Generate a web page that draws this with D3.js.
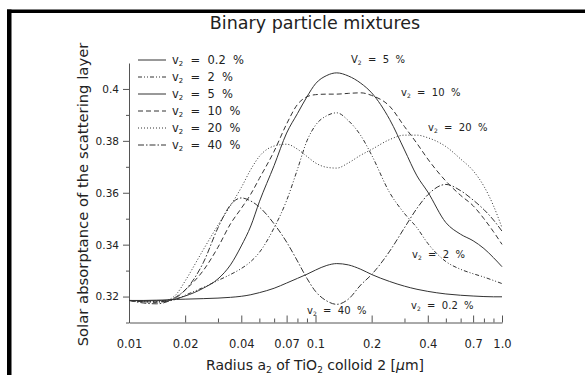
<!DOCTYPE html>
<html>
<head>
    <script src="https://d3js.org/d3.v7.min.js"></script>
    <style>
        body { margin: 0; background: #fff; }
        text { font-family: "DejaVu Sans", sans-serif; fill: #222; }
    </style>
</head>
<body>
    <div id="chart"></div>
    <script>
        // radius grid (um) and absorptance per volume fraction
        const radius = [0.01, 0.012, 0.014, 0.016, 0.018, 0.02, 0.025, 0.03, 0.035, 0.04, 0.045, 0.05,
            0.06, 0.07, 0.08, 0.09, 0.1, 0.115, 0.13, 0.15, 0.175, 0.2, 0.25, 0.3, 0.35, 0.4, 0.5,
            0.6, 0.7, 0.8, 0.9, 1.0];
        const v02 = [.3185, .3185, .3186, .3187, .3189, .3190, .3192, .3194, .3197, .3201, .3207, .3215,
            .3232, .3252, .3270, .3286, .3302, .3320, .3327, .3322, .3305, .3285, .3258, .3240, .3228, .3220, .3210,
            .3205, .3202, .3200, .3199, .3199];
        const v2 = [.3185, .3180, .3178, .3182, .3190, .3205, .3235, .3262, .3285, .3308, .3335, .3370,
            .3465, .3570, .3690, .3800, .3860, .3897, .3908, .3878, .3820, .3745, .3600, .3520, .3465, .3405, .3335,
            .3305, .3288, .3275, .3262, .3250];
        const v5 = [.3185, .3184, .3184, .3186, .3192, .3202, .3232, .3268, .3322, .3395, .3472, .3565,
            .3705, .3830, .3905, .3970, .4020, .4052, .4062, .4050, .4022, .3985, .3882, .3765, .3665, .3603, .3485,
            .3440, .3415, .3385, .3350, .3315];
        const v10 = [.3185, .3180, .3179, .3183, .3197, .3225, .3300, .3390, .3480, .3540, .3595, .3655,
            .3760, .3865, .3940, .3970, .3978, .3980, .3980, .3983, .3985, .3975, .3933, .3855, .3790, .3730, .3645,
            .3590, .3550, .3500, .3450, .3401];
        const v20 = [.3185, .3182, .3181, .3186, .3210, .3260, .3380, .3475, .3550, .3620, .3690, .3740,
            .3780, .3787, .3768, .3740, .3715, .3698, .3695, .3715, .3745, .3767, .3805, .3822, .3822, .3812, .3778,
            .3730, .3685, .3625, .3550, .3465];
        const v40 = [.3185, .3175, .3172, .3180, .3200, .3225, .3330, .3465, .3553, .3580, .3568, .3545,
            .3480, .3410, .3337, .3270, .3220, .3183, .3170, .3190, .3245, .3285, .3375, .3465, .3540, .3592, .3632,
            .3608, .3572, .3535, .3495, .3452];

        const seriesNames = ["0.2", "2", "5", "10", "20", "40"];
        const seriesValues = [v02, v2, v5, v10, v20, v40];
        const dashes = [null, "4,2,1,2,1,2", null, "5,3", "1,2", "6,2,1.5,2"];

        const xMajor = [0.01, 0.02, 0.04, 0.07, 0.1, 0.2, 0.4, 0.7, 1.0];
        const xMinor = [0.03, 0.05, 0.06, 0.08, 0.09, 0.3, 0.5, 0.6, 0.8, 0.9];
        const yMajor = [0.32, 0.34, 0.36, 0.38, 0.4];
        const yMinor = [0.31, 0.33, 0.35, 0.37, 0.39];

        // annotations on the curves: [V letter, value, x, y]
        const notes = [
            ["V", "5", 351, 63],
            ["v", "10", 401, 96],
            ["v", "20", 428, 131],
            ["v", "2", 412, 258],
            ["v", "0.2", 411, 309],
            ["v", "40", 307, 314]
        ];

        const W = 585, H = 375;
        const margin = { top: 63, right: 83, bottom: 52.5, left: 129 };
        const width = W - margin.left - margin.right,
            height = H - margin.top - margin.bottom;

        const svg = d3.select("#chart").append("svg")
            .attr("width", W).attr("height", H);

        // black frame bars (top and left)
        svg.append("rect").attr("x", 7).attr("y", 9.5).attr("width", W - 7).attr("height", 3.5).attr("fill", "#000");
        svg.append("rect").attr("x", 7).attr("y", 9.5).attr("width", 4.5).attr("height", H - 9.5).attr("fill", "#000");

        const g = svg.append("g").attr("transform", `translate(${margin.left},${margin.top})`);

        const x = d3.scaleLog().domain([0.01, 1.0]).range([0, width]);
        const y = d3.scaleLinear().domain([0.31, 0.41]).range([height, 0]);

        // axes
        const fmtX = d => d === 1 ? "1.0" : String(d);
        const xAx = g.append("g").attr("transform", `translate(0,${height})`)
            .call(d3.axisBottom(x).tickValues(xMajor).tickFormat(fmtX).tickSizeInner(-7).tickSizeOuter(0).tickPadding(17));
        g.append("g").attr("transform", `translate(0,${height})`)
            .call(d3.axisBottom(x).tickValues(xMinor).tickFormat("").tickSizeInner(-4).tickSizeOuter(0))
            .select(".domain").remove();
        const yAx = g.append("g")
            .call(d3.axisLeft(y).tickValues(yMajor).tickFormat(d => String(+d.toFixed(2))).tickSizeInner(6).tickSizeOuter(0).tickPadding(4));
        g.append("g")
            .call(d3.axisLeft(y).tickValues(yMinor).tickFormat("").tickSizeInner(3).tickSizeOuter(0))
            .select(".domain").remove();

        g.selectAll(".domain, .tick line").attr("stroke", "#555");
        xAx.selectAll("text").style("font-size", "11.5px").attr("fill", "#222");
        yAx.selectAll("text").style("font-size", "10.5px").attr("fill", "#222");

        // curves
        const line = d3.line()
            .x((d, i) => x(radius[i]))
            .y(d => y(d))
            .curve(d3.curveMonotoneX);

        g.selectAll("path.curve")
            .data(seriesValues)
            .enter().append("path")
            .attr("class", "curve")
            .attr("d", line)
            .attr("fill", "none")
            .attr("stroke", "#333")
            .attr("stroke-width", 1)
            .attr("stroke-dasharray", (d, i) => dashes[i]);

        // "v2 = n %" label with subscript
        function vLabel(parent, px, py, v, value, size) {
            const t = parent.append("text").attr("x", px).attr("y", py)
                .style("font-size", size + "px").style("white-space", "pre");
            t.append("tspan").text(v);
            t.append("tspan").attr("dy", 2).style("font-size", (size * 0.6) + "px").text("2");
            t.append("tspan").attr("dy", -2).text("  =  " + value + "  %");
            return t;
        }

        // legend
        const legend = svg.append("g");
        seriesNames.forEach(function (name, i) {
            const ly = 60 + i * 17;
            legend.append("line")
                .attr("x1", 138).attr("x2", 166).attr("y1", ly).attr("y2", ly)
                .attr("stroke", "#333").attr("stroke-width", 1)
                .attr("stroke-dasharray", dashes[i]);
            vLabel(legend, 172, ly + 4, "v", name, 11.5);
        });

        // annotations
        notes.forEach(function (n) {
            vLabel(svg, n[2], n[3], n[0], n[1], 10);
        });

        // title
        svg.append("text")
            .attr("x", 315).attr("y", 29)
            .attr("text-anchor", "middle")
            .style("font-size", "17.5px")
            .text("Binary particle mixtures");

        // y axis title
        svg.append("text")
            .attr("transform", "translate(88,194.5) rotate(-90)")
            .attr("text-anchor", "middle")
            .style("font-size", "14.8px")
            .text("Solar absorptance of the scattering layer");

        // x axis title
        const xt = svg.append("text")
            .attr("x", 315).attr("y", 370)
            .attr("text-anchor", "middle")
            .style("font-size", "14px");
        xt.append("tspan").text("Radius a");
        xt.append("tspan").attr("dy", 3).style("font-size", "9px").text("2");
        xt.append("tspan").attr("dy", -3).text(" of TiO");
        xt.append("tspan").attr("dy", 3).style("font-size", "9px").text("2");
        xt.append("tspan").attr("dy", -3).text(" colloid 2 [");
        xt.append("tspan").style("font-style", "italic").text("\u03bc");
        xt.append("tspan").text("m]");
    </script>
</body>
</html>
